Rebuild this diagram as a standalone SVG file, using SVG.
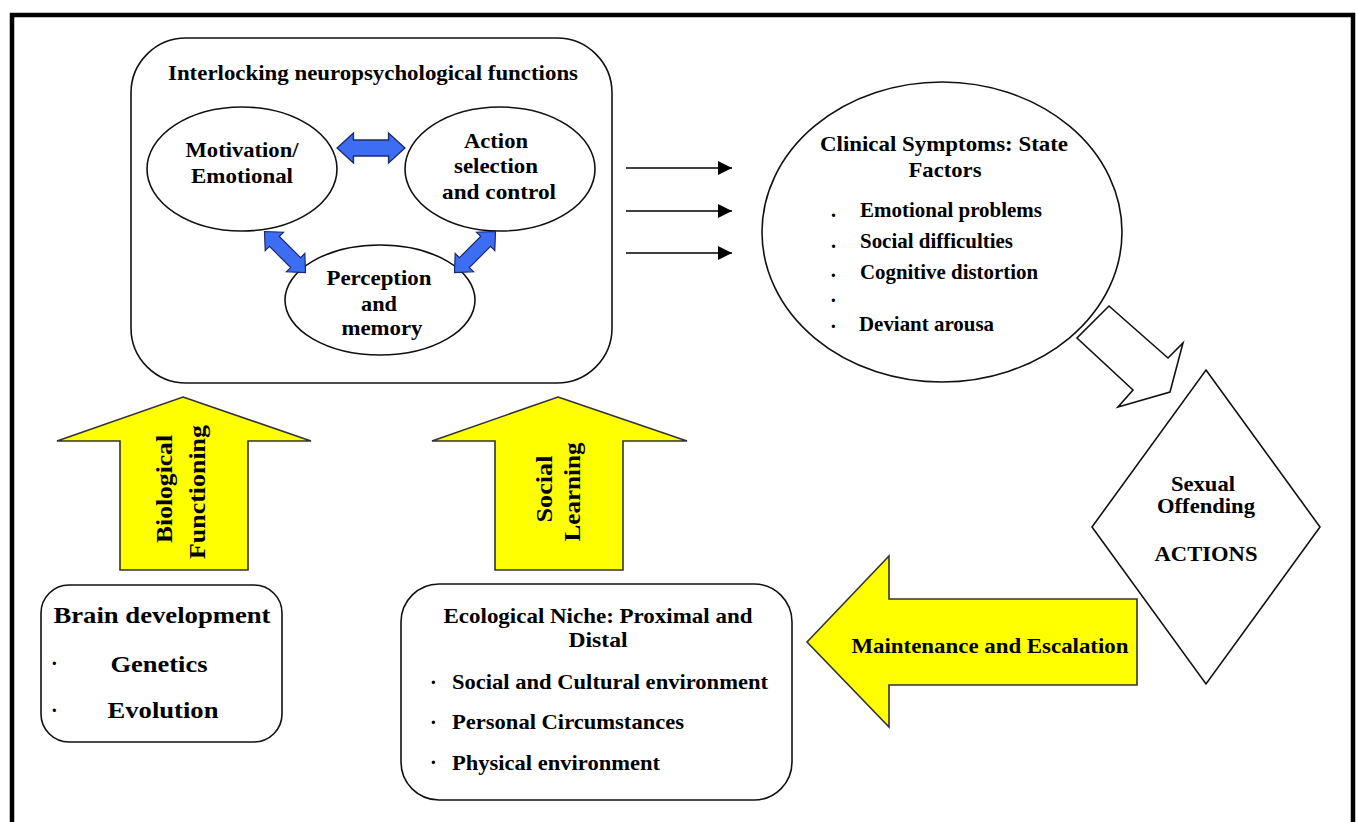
<svg xmlns="http://www.w3.org/2000/svg" width="1358" height="822" viewBox="0 0 1358 822">
<defs>
<style>
.t{font-family:"Liberation Serif","Times New Roman",serif;font-weight:bold;fill:#000;}
.c{text-anchor:middle;}
.box{fill:#fff;stroke:#111;stroke-width:1.6;}
.yel{fill:#ffff00;stroke:#333;stroke-width:1.6;}
.blue{fill:#3d6df2;stroke:#1b2a6b;stroke-width:1.2;}
.thin{stroke:#000;stroke-width:1.6;fill:none;}
</style>
<marker id="ah" viewBox="0 0 10 10" refX="10" refY="5" markerWidth="14" markerHeight="14" markerUnits="userSpaceOnUse" orient="auto">
<path d="M0,0 L10,5 L0,10 z" fill="#000"/>
</marker>
<polygon id="dbl" points="-29,0 -15,-13 -15,-7 15,-7 15,-13 29,0 15,13 15,7 -15,7 -15,13"/>
</defs>
<rect x="0" y="0" width="1358" height="822" fill="#fff"/>
<rect x="12" y="15" width="1341" height="822" fill="none" stroke="#000" stroke-width="4.5"/>

<g id="neuro-box">
<rect class="box" x="131" y="38" width="481" height="345" rx="55" ry="55"/>
<text class="t c" x="373" y="80" font-size="21" textLength="410" lengthAdjust="spacingAndGlyphs">Interlocking neuropsychological functions</text>
</g>
<g id="motivation">
<ellipse class="box" cx="242" cy="169" rx="95" ry="62" stroke-width="1.3"/>
<text class="t c" x="242" y="157" font-size="22" textLength="113" lengthAdjust="spacingAndGlyphs">Motivation/</text>
<text class="t c" x="242" y="183" font-size="22" textLength="102" lengthAdjust="spacingAndGlyphs">Emotional</text>
</g>
<g id="action">
<ellipse class="box" cx="500" cy="169" rx="95" ry="62" stroke-width="1.3"/>
<text class="t c" x="496" y="148" font-size="22" textLength="64" lengthAdjust="spacingAndGlyphs">Action</text>
<text class="t c" x="496" y="173" font-size="22" textLength="84" lengthAdjust="spacingAndGlyphs">selection</text>
<text class="t c" x="499" y="199" font-size="22" textLength="114" lengthAdjust="spacingAndGlyphs">and control</text>
</g>
<g id="perception">
<ellipse class="box" cx="380" cy="300" rx="95" ry="55" stroke-width="1.3"/>
<text class="t c" x="379" y="285" font-size="22" textLength="105" lengthAdjust="spacingAndGlyphs">Perception</text>
<text class="t c" x="379" y="311" font-size="22" textLength="36" lengthAdjust="spacingAndGlyphs">and</text>
<text class="t c" x="382" y="335" font-size="22" textLength="81" lengthAdjust="spacingAndGlyphs">memory</text>
</g>

<g id="clinical">
<ellipse class="box" cx="942" cy="232" rx="180" ry="150"/>
<text class="t c" x="944" y="151" font-size="22" textLength="248" lengthAdjust="spacingAndGlyphs">Clinical Symptoms: State</text>
<text class="t c" x="945" y="177" font-size="22" textLength="73" lengthAdjust="spacingAndGlyphs">Factors</text>
<text class="t" x="831" y="217" font-size="20">.</text>
<text class="t" x="831" y="248" font-size="20">.</text>
<text class="t" x="830" y="282" font-size="20">·</text>
<text class="t" x="830" y="307" font-size="20">·</text>
<text class="t" x="830" y="333" font-size="20">·</text>
<text class="t" x="860" y="217" font-size="21" textLength="182" lengthAdjust="spacingAndGlyphs">Emotional problems</text>
<text class="t" x="860" y="248" font-size="21" textLength="153" lengthAdjust="spacingAndGlyphs">Social difficulties</text>
<text class="t" x="860" y="279" font-size="21" textLength="178" lengthAdjust="spacingAndGlyphs">Cognitive distortion</text>
<text class="t" x="859" y="331" font-size="21" textLength="135" lengthAdjust="spacingAndGlyphs">Deviant arousa</text>
</g>

<g id="actions">
<polygon class="box" points="1206,370 1320,527 1206,684 1092,527" stroke-width="1.4"/>
<text class="t c" x="1203" y="491" font-size="21" textLength="64" lengthAdjust="spacingAndGlyphs">Sexual</text>
<text class="t c" x="1206" y="513" font-size="21" textLength="98" lengthAdjust="spacingAndGlyphs">Offending</text>
<text class="t c" x="1206" y="561" font-size="21" textLength="103" lengthAdjust="spacingAndGlyphs">ACTIONS</text>
</g>

<g id="brain">
<rect class="box" x="41" y="585" width="241" height="157" rx="28" ry="28"/>
<text class="t c" x="162" y="623" font-size="24" textLength="217" lengthAdjust="spacingAndGlyphs">Brain development</text>
<text class="t" x="51" y="670" font-size="20">·</text>
<text class="t" x="51" y="717" font-size="20">·</text>
<text class="t c" x="159" y="672" font-size="24" textLength="97" lengthAdjust="spacingAndGlyphs">Genetics</text>
<text class="t c" x="163" y="718" font-size="24" textLength="111" lengthAdjust="spacingAndGlyphs">Evolution</text>
</g>

<g id="ecological">
<rect class="box" x="401" y="584" width="391" height="216" rx="38" ry="38"/>
<text class="t c" x="598" y="623" font-size="21" textLength="309" lengthAdjust="spacingAndGlyphs">Ecological Niche: Proximal and</text>
<text class="t c" x="598" y="647" font-size="21" textLength="59" lengthAdjust="spacingAndGlyphs">Distal</text>
<text class="t" x="430" y="689" font-size="20">·</text>
<text class="t" x="430" y="729" font-size="20">·</text>
<text class="t" x="430" y="769" font-size="20">·</text>
<text class="t" x="452" y="689" font-size="21" textLength="316" lengthAdjust="spacingAndGlyphs">Social and Cultural environment</text>
<text class="t" x="452" y="729" font-size="21" textLength="232" lengthAdjust="spacingAndGlyphs">Personal Circumstances</text>
<text class="t" x="452" y="770" font-size="21" textLength="208" lengthAdjust="spacingAndGlyphs">Physical environment</text>
</g>

<g id="connectors">
<g id="blue-arrows">
<use href="#dbl" class="blue" transform="translate(371,148) scale(1.17,1.15)"/>
<use href="#dbl" class="blue" transform="translate(285,252) rotate(45)"/>
<use href="#dbl" class="blue" transform="translate(475,252) rotate(-45)"/>
</g>
<g id="state-arrows">
<line class="thin" x1="626" y1="168" x2="732" y2="168" marker-end="url(#ah)"/>
<line class="thin" x1="626" y1="211" x2="732" y2="211" marker-end="url(#ah)"/>
<line class="thin" x1="626" y1="253" x2="732" y2="253" marker-end="url(#ah)"/>
</g>
<polygon id="to-actions" class="box" stroke-width="1.4" points="1109,306 1168,358 1183,343 1170,392 1118,407 1133,390 1077,338"/>
<g id="bio-arrow">
<polygon class="yel" points="183,397 311,441 248,441 248,570 120,570 120,441 57,441"/>
<text class="t c" transform="translate(172,489) rotate(-90)" font-size="24" textLength="108" lengthAdjust="spacingAndGlyphs">Biological</text>
<text class="t c" transform="translate(205,492) rotate(-90)" font-size="24" textLength="134" lengthAdjust="spacingAndGlyphs">Functioning</text>
</g>
<g id="social-arrow">
<polygon class="yel" points="558,397 687,441 623,441 623,570 495,570 495,441 432,441"/>
<text class="t c" transform="translate(552,489) rotate(-90)" font-size="24" textLength="67" lengthAdjust="spacingAndGlyphs">Social</text>
<text class="t c" transform="translate(580,492) rotate(-90)" font-size="24" textLength="99" lengthAdjust="spacingAndGlyphs">Learning</text>
</g>
<g id="maintenance-arrow">
<polygon class="yel" points="807,642 889,556 889,599 1137,599 1137,685 889,685 889,727"/>
<text class="t c" x="990" y="653" font-size="21" textLength="277" lengthAdjust="spacingAndGlyphs">Maintenance and Escalation</text>
</g>
</g>
</svg>
